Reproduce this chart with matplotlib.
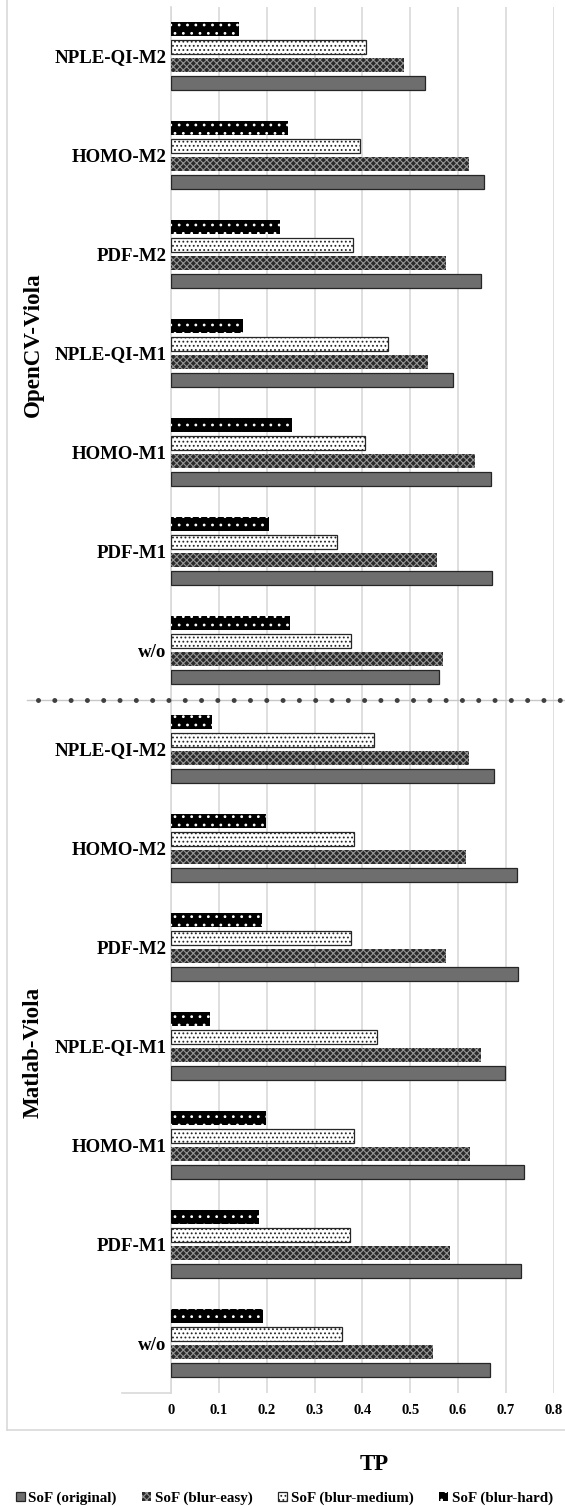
import matplotlib
matplotlib.use("Agg")
import matplotlib.pyplot as plt
from matplotlib.patches import Patch
from matplotlib.lines import Line2D
from matplotlib import transforms
import numpy as np

# dati (dall'alto verso il basso)
gruppi = ["OpenCV-Viola", "Matlab-Viola"]
metodi = ["NPLE-QI-M2", "HOMO-M2", "PDF-M2", "NPLE-QI-M1", "HOMO-M1", "PDF-M1", "w/o"]
categorie = metodi + metodi

sof_original = [0.530, 0.655, 0.648, 0.590, 0.668, 0.672, 0.560,
                0.676, 0.723, 0.725, 0.699, 0.737, 0.732, 0.667]
sof_easy = [0.488, 0.623, 0.574, 0.537, 0.636, 0.557, 0.569,
            0.622, 0.616, 0.574, 0.647, 0.624, 0.583, 0.548]
sof_medium = [0.408, 0.396, 0.380, 0.454, 0.406, 0.348, 0.376,
              0.424, 0.383, 0.377, 0.431, 0.383, 0.375, 0.358]
sof_hard = [0.143, 0.245, 0.228, 0.151, 0.252, 0.204, 0.249,
            0.086, 0.199, 0.190, 0.082, 0.198, 0.184, 0.193]

xticks = [0, 0.1, 0.2, 0.3, 0.4, 0.5, 0.6, 0.7, 0.8]
xlabels = ["0", "0.1", "0.2", "0.3", "0.4", "0.5", "0.6", "0.7", "0.8"]

plt.rcParams['font.family'] = ['Liberation Serif', 'DejaVu Serif']
plt.rcParams['font.weight'] = 'bold'
plt.rcParams['hatch.linewidth'] = 0.8

W, H = 565, 1506


def fx(px):
    return px / W


def fy(py):
    return 1 - py / H


fig = plt.figure(figsize=(W / 100, H / 100), dpi=100)
ax = fig.add_axes([fx(171), fy(1392.5), fx(553.7) - fx(171), (1392.5 - 6.5) / H])

y = np.arange(len(categorie))
passo = 0.182   # distanza fra le barre di una categoria
alt = 0.141     # spessore barra

# stili delle serie: (valori, etichetta, faccia, colore tratteggio/bordo, hatch, spessore bordo, offset)
serie = [
    (sof_hard, "SoF (blur-hard)", "black", "white", "..", 0, -1.5),
    (sof_medium, "SoF (blur-medium)", "white", "#262626", "....", 0.9, -0.5),
    (sof_easy, "SoF (blur-easy)", "#2a2a2a", "#959595", "xxxxx", 0, 0.5),
    (sof_original, "SoF (original)", "#6e6e6e", "#262626", None, 0.9, 1.5),
]

for vals, lab, face, edge, hatch, lw, off in serie:
    ax.barh(y + off * passo, vals, height=alt, color=face, edgecolor=edge,
            hatch=hatch, linewidth=lw, zorder=3)

ax.set_xlim(0, 0.8)
ax.set_ylim(len(categorie) - 0.5, -0.5)
ax.set_xticks(xticks)
ax.set_xticklabels(xlabels, fontsize=10.5, fontweight='bold')
ax.set_yticks(y)
ax.set_yticklabels(categorie, fontsize=13.6, fontweight='bold')
ax.tick_params(axis='both', length=0)
ax.tick_params(axis='y', pad=3.2)
ax.tick_params(axis='x', pad=8)

ax.set_axisbelow(True)
ax.xaxis.grid(True, color='#d9d9d9', linewidth=1.2)
for s in ['top', 'right', 'bottom']:
    ax.spines[s].set_visible(False)
ax.spines['left'].set_color('#d9d9d9')
ax.spines['left'].set_linewidth(1.2)

# linea tratteggiata che separa i due gruppi
trans = transforms.blended_transform_factory(fig.transFigure, ax.transData)
sep = len(metodi) - 0.5
ax.add_line(Line2D([fx(27), fx(565)], [sep, sep], transform=trans, color='#c8c8c8',
                   linewidth=1, clip_on=False, zorder=4))
ax.add_line(Line2D([fx(38), fx(565)], [sep, sep], transform=trans, color='#404040',
                   linewidth=3.6, linestyle=(0, (0.001, 3.26)), dash_capstyle='round',
                   clip_on=False, zorder=5))

# cornice e linea dell'asse delle categorie
fig.add_artist(Line2D([fx(122), fx(171)], [fy(1392.5), fy(1392.5)], color='#d9d9d9', linewidth=1.2))
fig.add_artist(Line2D([fx(7), fx(7)], [fy(0), fy(1430)], color='#d9d9d9', linewidth=1.2))
fig.add_artist(Line2D([fx(7), fx(565)], [fy(1430), fy(1430)], color='#d9d9d9', linewidth=1.2))

# etichette dei gruppi
fig.text(fx(33), fy(345), gruppi[0], rotation=90, ha='center', va='center',
         fontsize=16.6, fontweight='bold')
fig.text(fx(33), fy(1052), gruppi[1], rotation=90, ha='center', va='center',
         fontsize=16.6, fontweight='bold')

fig.text(fx(374), fy(1465), "TP", ha='center', va='center', fontsize=16.5, fontweight='bold')

# legenda
handles = []
for vals, lab, face, edge, hatch, lw, off in reversed(serie):
    handles.append(Patch(facecolor=face, edgecolor=edge, hatch=hatch, linewidth=lw, label=lab))
fig.legend(handles=handles, loc='center', bbox_to_anchor=(fx(284.5), fy(1498)), ncol=4,
           frameon=False, prop={'weight': 'bold', 'size': 10.8}, handlelength=0.6,
           handleheight=0.6, handletextpad=0.25, columnspacing=1.7, borderpad=0)

plt.savefig('out.png', dpi=100)
plt.close(fig)
